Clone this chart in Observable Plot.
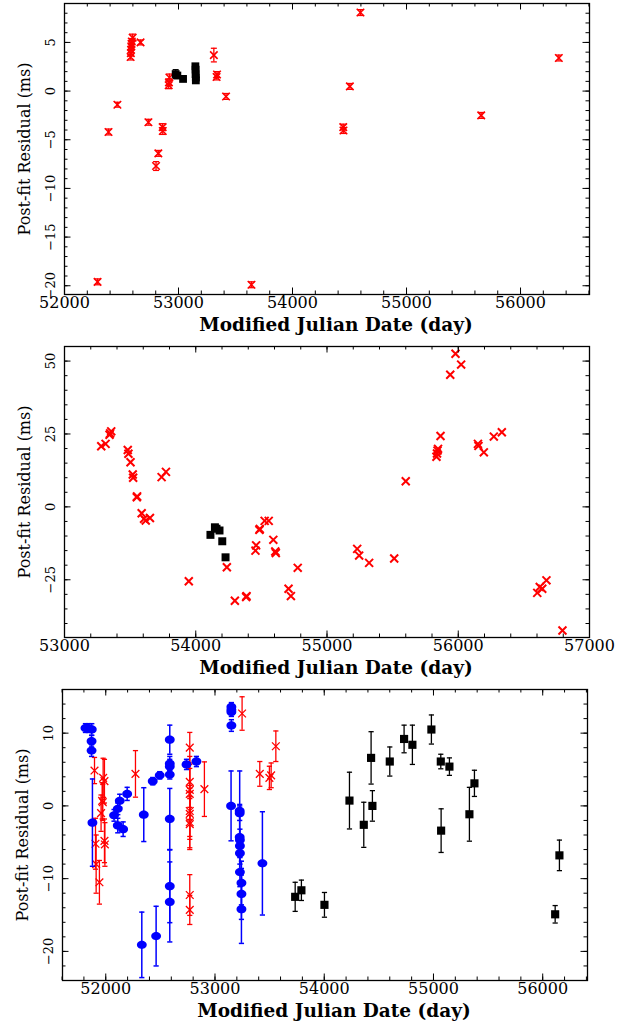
<!DOCTYPE html>
<html><head><meta charset="utf-8">
<script src="https://cdn.jsdelivr.net/npm/d3@7"></script>
<script src="https://cdn.jsdelivr.net/npm/@observablehq/plot@0.6"></script>
<style>body{margin:0;background:#fff;} svg{display:block;}</style>
</head><body><div id="chart"></div><script>
// ---------- Panel 1 ----------
const p1RedMjd = [52290,52386,52464,52580,52582,52584,52586,52588,52590,52598,52667,52736,52803,52823,52861,52862,52914,52916,52920,53310,53334,53338,53417,53640,54445,54447,54503,54596,55655,56336];
const p1RedRes = [-19.6,-4.2,-1.4,3.5,3.9,4.25,4.6,4.85,5.1,5.5,5.0,-3.2,-7.7,-6.4,-3.7,-4.1,0.6,0.9,1.4,3.7,1.45,1.7,-0.55,-19.9,-3.7,-4.05,0.48,8.07,-2.5,3.4];
const p1RedErr = [0.3,0.3,0.25,0.3,0.3,0.3,0.3,0.3,0.3,0.35,0.25,0.3,0.45,0.3,0.35,0.35,0.35,0.35,0.35,0.7,0.3,0.3,0.3,0.3,0.3,0.3,0.3,0.3,0.3,0.3];
const p1BlackMjd = [52975,52990,53040,53148,53150,53150,53152,53152];
const p1BlackRes = [1.75,1.6,1.25,2.55,2.2,1.75,1.4,1.1];
const p1BlackErr = [0.45,0.2,0.2,0.2,0.2,0.2,0.2,0.2];
const p1XTicks = [52000,53000,54000,55000,56000];
const p1YTicks = [-20,-15,-10,-5,0,5];

// ---------- Panel 2 ----------
const p2RedMjd = [53280,53313,53343,53348,53356,53482,53487,53503,53520,53523,53551,53553,53588,53606,53619,53651,53740,53773,53947,54237,54298,54384,54387,54455,54460,54485,54488,54525,54556,54591,54606,54610,54707,54725,54777,55230,55245,55321,55512,55600,55834,55838,55842,55846,55865,55939,55979,56022,56150,56154,56195,56271,56332,56602,56621,56640,56672,56794];
const p2RedRes = [20.8,21.6,24.7,25.2,25.9,19.5,18.2,15.3,11.1,10.0,3.3,3.6,-2.2,-4.1,-4.7,-3.8,10.2,12.0,-25.5,-20.7,-32.2,-30.9,-30.6,-15.0,-13.2,-7.9,-7.6,-4.8,-4.8,-11.3,-15.3,-15.8,-28.1,-30.6,-20.9,-14.4,-16.7,-19.2,-17.7,8.8,17.2,18.3,19.3,19.9,24.3,45.3,52.5,48.8,21.6,20.9,18.7,24.1,25.6,-29.5,-27.5,-28.1,-25.2,-42.4];
const p2BlackMjd = [54112,54146,54158,54181,54202,54227];
const p2BlackRes = [-9.6,-7.0,-7.5,-8.1,-11.8,-17.3];
const p2XTicks = [53000,54000,55000,56000,57000];
const p2YTicks = [-25,0,25,50];

// ---------- Panel 3 ----------
const p3RedMjd = [51897,51906,51912,51942,51957,51967,51973,51976,51988,51988,51992,52272,52769,52769,52769,52769,52769,52769,52769,52769,52769,52769,52903,53248,53410,53498,53514,53557];
const p3RedRes = [4.86,-5.2,-8.0,-10.5,-1.0,0.7,0.5,3.85,3.4,-4.8,-5.3,4.4,8.0,3.3,2.2,1.65,-0.7,-1.1,-2.25,-2.5,-12.25,-14.3,2.3,12.7,4.4,3.85,4.2,8.2];
const p3RedErr = [1.8,3.5,4.0,3.0,2.5,2.5,2.5,2.7,3.0,3.0,3.0,3.2,2.1,3.5,3.5,3.5,3.5,3.5,3.5,3.5,2.8,2.0,3.75,2.3,1.7,1.6,1.7,2.1];
const p3BlueMjd = [51814,51840,51872,51870,51870,51878,52076,52110,52110,52128,52159,52196,52330,52348,52430,52461,52494,52586,52586,52586,52586,52586,52586,52586,52739,52830,53150,53150,53150,53150,53147,53226,53226,53226,53228,53228,53228,53228,53242,53242,53242,53434];
const p3BlueRes = [10.7,10.7,10.5,8.9,7.6,-2.3,-1.3,-0.4,-2.7,0.7,-3.2,1.65,-19.1,-1.2,3.4,-17.9,4.2,9.1,5.8,5.4,4.3,-1.8,-11.05,-13.2,5.7,6.1,11.05,12.9,13.2,13.6,0.0,-0.7,-1.0,-4.3,-4.7,-5.5,-6.5,-9.1,-10.6,-12.1,-14.2,-7.9];
const p3BlueErr = [0.6,0.6,0.8,0.8,0.8,6.0,0.8,0.8,1.0,0.9,1.0,0.9,4.5,3.7,0.5,4.1,0.5,2.0,1.0,1.0,0.6,4.2,5.0,5.5,0.7,0.7,0.8,0.6,0.6,0.6,4.8,5.5,1.0,4.5,1.5,1.5,1.5,2.0,3.0,3.5,4.7,7.1];
const p3BlackMjd = [53734,53791,54002,54231,54362,54429,54441,54600,54731,54807,54981,55067,55070,55146,55329,55375,56114,56153];
const p3BlackRes = [-12.5,-11.6,-13.6,0.73,-2.6,6.6,0.0,6.1,9.2,8.4,10.5,6.1,-3.4,5.4,-1.15,3.1,-14.9,-6.8];
const p3BlackErr = [2.0,1.4,1.7,3.9,3.1,3.6,2.1,2.0,1.9,2.7,2.0,1.0,3.0,1.2,3.7,1.8,1.2,2.1];
const p3XTicks = [52000,53000,54000,55000,56000];
const p3YTicks = [-20,-10,0,10];

const xLabel = "Modified Julian Date (day)";
const yLabel = "Post-fit Residual (ms)";

// ---------- helpers ----------
const FONT = "DejaVu Serif";
const RED = "#ff0000", BLUE = "#0000ff", BLACK = "#000000";
const rows = (mjd, res, err) => mjd.map((x, i) => ({x, y: res[i], e: err ? err[i] : 0}));
const capSymbol = {draw(ctx, size) { const w = Math.sqrt(size / Math.PI); ctx.moveTo(-w, 0); ctx.lineTo(w, 0); }};
// slightly wide ellipse symbol (Bezier approximation)
const ellipseSymbol = {draw(ctx, size) {
  const r = Math.sqrt(size / Math.PI), rx = r * 1.12, ry = r * 0.95, k = 0.5523;
  ctx.moveTo(rx, 0);
  ctx.bezierCurveTo(rx, ry * k, rx * k, ry, 0, ry);
  ctx.bezierCurveTo(-rx * k, ry, -rx, ry * k, -rx, 0);
  ctx.bezierCurveTo(-rx, -ry * k, -rx * k, -ry, 0, -ry);
  ctx.bezierCurveTo(rx * k, -ry, rx, -ry * k, rx, 0);
  ctx.closePath();
}};
const fmtY = d => d < 0 ? "\u2212" + Math.abs(d) : String(d);

function errorMarks(data, color, capR, sw) {
  return [
    Plot.ruleX(data, {x: "x", y1: d => d.y - d.e, y2: d => d.y + d.e, stroke: color, strokeWidth: sw}),
    Plot.dot(data, {x: "x", y: d => d.y - d.e, symbol: capSymbol, r: capR, stroke: color, strokeWidth: sw, fill: "none"}),
    Plot.dot(data, {x: "x", y: d => d.y + d.e, symbol: capSymbol, r: capR, stroke: color, strokeWidth: sw, fill: "none"})
  ];
}

function panel(o, dataMarks) {
  const fh = o.height - o.mt - o.mb, fw = 635 - o.ml - o.mr;
  const major = 6.5, minor = 3.5;
  return Plot.plot({
    width: 635, height: o.height,
    marginTop: o.mt, marginBottom: o.mb, marginLeft: o.ml, marginRight: o.mr,
    style: {fontFamily: FONT, background: "white", color: "black", overflow: "visible"},
    x: {domain: o.xDomain, axis: null},
    y: {domain: o.yDomain, axis: null},
    marks: [
      ...dataMarks,
      Plot.tickX(o.xMinor, {x: d => d, insetTop: fh - minor, stroke: BLACK}),
      Plot.tickX(o.xMinor, {x: d => d, insetBottom: fh - minor, stroke: BLACK}),
      Plot.tickX(o.xMajor, {x: d => d, insetTop: fh - major, stroke: BLACK}),
      Plot.tickX(o.xMajor, {x: d => d, insetBottom: fh - major, stroke: BLACK}),
      Plot.tickY(o.yMinor, {y: d => d, insetRight: fw - minor, stroke: BLACK}),
      Plot.tickY(o.yMinor, {y: d => d, insetLeft: fw - minor, stroke: BLACK}),
      Plot.tickY(o.yMajor, {y: d => d, insetRight: fw - major, stroke: BLACK}),
      Plot.tickY(o.yMajor, {y: d => d, insetLeft: fw - major, stroke: BLACK}),
      Plot.frame({stroke: BLACK, strokeWidth: 1.3}),
      Plot.text(o.xMajor, {x: d => d, text: d => String(d), frameAnchor: "bottom", lineAnchor: "top", dy: 2, fontSize: 16, fill: BLACK}),
      Plot.text(o.yMajor, {y: d => d, text: fmtY, frameAnchor: "left", rotate: -90, textAnchor: "middle", lineAnchor: "middle", dx: -14, fontSize: 13, fill: BLACK}),
      Plot.text([xLabel], {text: d => d, frameAnchor: "bottom", lineAnchor: "bottom", dy: 36, dx: 9, fontSize: 18.5, fontWeight: "bold", fill: BLACK}),
      Plot.text([yLabel], {text: d => d, frameAnchor: "left", rotate: -90, textAnchor: "middle", lineAnchor: "middle", dx: -40, fontSize: 16, fill: BLACK})
    ]
  });
}

const chart = document.getElementById("chart");

// Panel 1
const r1 = rows(p1RedMjd, p1RedRes, p1RedErr);
const b1 = rows(p1BlackMjd, p1BlackRes, p1BlackErr);
chart.append(panel({
  height: 340, mt: 3, mb: 46, ml: 64, mr: 46,
  xDomain: [52000, 56605], yDomain: [-20.9, 9.0],
  xMajor: p1XTicks, xMinor: d3.range(52000, 56601, 200),
  yMajor: p1YTicks, yMinor: d3.range(-20, 9, 1)
}, [
  ...errorMarks(r1, RED, 3, 1.3),
  Plot.dot(r1, {x: "x", y: "y", symbol: "times", r: 3.5, stroke: RED, strokeWidth: 1.6}),
  ...errorMarks(b1, BLACK, 3, 1.3),
  Plot.dot(b1, {x: "x", y: "y", symbol: "square", r: 4.4, fill: BLACK})
]));

// Panel 2
const r2 = rows(p2RedMjd, p2RedRes);
const b2 = rows(p2BlackMjd, p2BlackRes);
chart.append(panel({
  height: 340, mt: 6, mb: 43, ml: 64, mr: 46,
  xDomain: [53000, 57000], yDomain: [-44.8, 55],
  xMajor: p2XTicks, xMinor: d3.range(53000, 57001, 200),
  yMajor: p2YTicks, yMinor: d3.range(-40, 55, 5)
}, [
  Plot.dot(r2, {x: "x", y: "y", symbol: "times", r: 3.7, stroke: RED, strokeWidth: 2}),
  Plot.dot(b2, {x: "x", y: "y", symbol: "square", r: 4.5, fill: BLACK})
]));

// Panel 3
const r3 = rows(p3RedMjd, p3RedRes, p3RedErr);
const u3 = rows(p3BlueMjd, p3BlueRes, p3BlueErr);
const b3 = rows(p3BlackMjd, p3BlackRes, p3BlackErr);
chart.append(panel({
  height: 341, mt: 9, mb: 41, ml: 62, mr: 48,
  xDomain: [51604, 56410], yDomain: [-24, 16],
  xMajor: p3XTicks, xMinor: d3.range(51600, 56401, 200),
  yMajor: p3YTicks, yMinor: d3.range(-22, 15, 2)
}, [
  ...errorMarks(r3, RED, 2.6, 1.3),
  Plot.dot(r3, {x: "x", y: "y", symbol: "times", r: 3.6, stroke: RED, strokeWidth: 1.3}),
  ...errorMarks(u3, BLUE, 2.6, 1.5),
  Plot.dot(u3, {x: "x", y: "y", symbol: ellipseSymbol, r: 4.4, fill: BLUE, stroke: "none"}),
  ...errorMarks(b3, BLACK, 2.6, 1.3),
  Plot.dot(b3, {x: "x", y: "y", symbol: "square", r: 4.6, fill: BLACK})
]));
</script></body></html>
